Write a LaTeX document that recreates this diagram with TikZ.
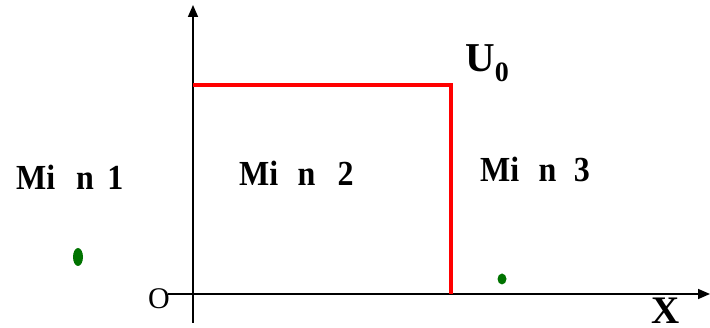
\documentclass[tikz,border=0pt]{standalone}
\usepackage{fontspec}
\setmainfont{Liberation Serif}
\usetikzlibrary{arrows.meta,shapes.geometric}
\newcommand{\tallbox}[1]{\scalebox{1}[1.1]{#1}}
\begin{document}
\begin{tikzpicture}[x=1pt,y=-1pt,
  axis/.style={line width=1.6pt,-{Triangle[length=12pt,width=10pt]}},
  wall/.style={line width=4pt,red},
  region/.style={font=\fontsize{32}{34}\selectfont\bfseries,inner sep=0pt,anchor=base west},
  blob/.style={fill=green!45!black,draw=none,ellipse,inner sep=0pt}]
\useasboundingbox (0,0) rectangle (710,328);
% axes
\coordinate (ybot) at (193,323);
\coordinate (ytop) at (193,5);
\coordinate (xleft) at (168,294);
\coordinate (xright) at (710,294);
\draw[axis] (ybot) -- (ytop);
\draw[axis] (xleft) -- (xright);
% red barrier
\coordinate (r1) at (193,85);
\coordinate (r2) at (451,85);
\coordinate (r3) at (451,294);
\draw[wall,line join=miter] (r1) -- (r2) -- (r3);
% labels
\node[region] (m1) at (16,190) {\tallbox{Mi\hspace{0.65em}n\hspace{0.42em}1}};
\node[region] (m2) at (239,186) {\tallbox{Mi\hspace{0.6em}n\hspace{0.7em}2}};
\node[region] (m3) at (480,182) {\tallbox{Mi\hspace{0.6em}n\hspace{0.55em}3}};
\node[region,font=\fontsize{41}{43}\selectfont\bfseries] (u0) at (465,72) {U\raisebox{-10pt}{\fontsize{28}{30}\selectfont\bfseries 0}};
\node[font=\fontsize{30}{32}\selectfont,inner sep=0pt,anchor=base west] (o) at (148,309) {O};
\node[region,font=\fontsize{39}{41}\selectfont\bfseries] (xl) at (651,324) {X};
% green specks
\node[blob,minimum width=10pt,minimum height=18pt] (g1) at (78,257) {};
\node[blob,minimum width=9pt,minimum height=11pt] (g2) at (502,279) {};
\end{tikzpicture}
\end{document}
